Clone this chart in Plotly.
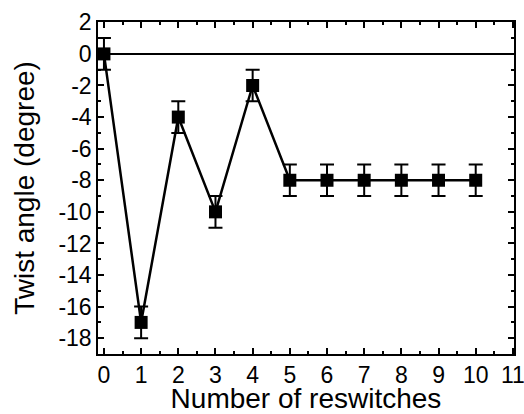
import plotly.graph_objects as go

reswitches = [0, 1, 2, 3, 4, 5, 6, 7, 8, 9, 10]
twist_angle = [0, -17, -4, -10, -2, -8, -8, -8, -8, -8, -8]
twist_err = [1, 1, 1, 1, 1, 1, 1, 1, 1, 1, 1]
x_ticks = list(range(0, 12))
y_ticks = list(range(-18, 3, 2))

fig = go.Figure()
fig.add_trace(go.Scatter(
    x=reswitches, y=twist_angle,
    mode="lines+markers",
    line=dict(color="black", width=2.5),
    marker=dict(symbol="square", size=13, color="black"),
    error_y=dict(type="data", array=twist_err, visible=True,
                 color="black", thickness=2, width=7),
    showlegend=False,
))

font = "Liberation Sans, Arial, sans-serif"
fig.update_layout(
    width=524, height=414,
    margin=dict(l=98, r=10, t=22, b=60, autoexpand=False),
    paper_bgcolor="white", plot_bgcolor="white",
    font=dict(family=font, color="black", size=23),
)
fig.update_xaxes(
    range=[-0.16, 11.03], tickvals=x_ticks, ticktext=[str(v) for v in x_ticks],
    ticks="inside", ticklen=6, tickwidth=1.5, tickcolor="black",
    minor=dict(ticks="inside", ticklen=3, dtick=0.5, tick0=0, tickcolor="black", tickwidth=1.5),
    showline=True, linecolor="black", linewidth=1.5, mirror="ticks",
    showgrid=False, zeroline=False, automargin=True,
    ticklabeloverflow="allow",
    tickfont=dict(size=23),
    title=dict(text="Number of reswitches", font=dict(size=28), standoff=5),
)
fig.update_yaxes(
    range=[-19, 2.02], tickvals=y_ticks, ticktext=[str(v) for v in y_ticks],
    ticks="inside", ticklen=6, tickwidth=1.5, tickcolor="black",
    minor=dict(ticks="inside", ticklen=3, dtick=1, tick0=0, tickcolor="black", tickwidth=1.5),
    showline=True, linecolor="black", linewidth=1.5, mirror="ticks",
    showgrid=False, zeroline=True, zerolinecolor="black", zerolinewidth=1.5,
    automargin=True, ticklabeloverflow="allow",
    tickfont=dict(size=23),
    title=dict(text="Twist angle (degree)", font=dict(size=28), standoff=16),
)
fig.write_html("out.html", config={"displayModeBar": False},
               post_script="document.body.style.margin='0';document.body.style.overflow='hidden';")
